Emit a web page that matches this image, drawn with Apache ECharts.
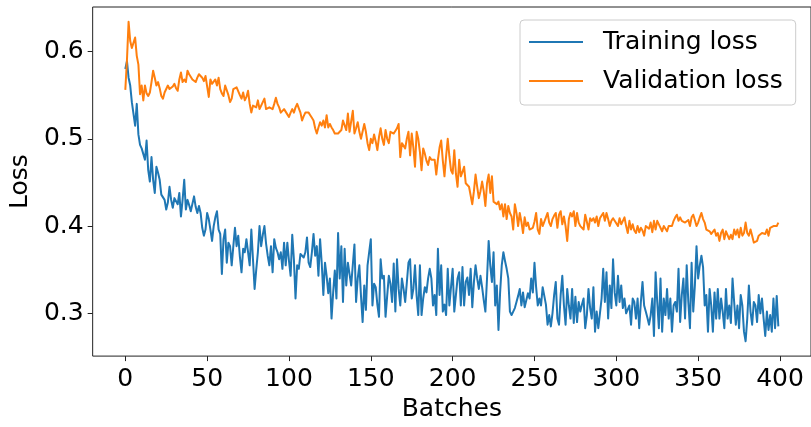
<!DOCTYPE html>
<html>
<head>
<meta charset="utf-8">
<script src="https://cdn.jsdelivr.net/npm/echarts@6/dist/echarts.min.js"></script>
<style>
html,body{margin:0;padding:0;background:#ffffff;}
#chart{width:811px;height:427px;}
</style>
</head>
<body>
<div id="chart"></div>
<script>
// ---- Data ----
const seriesNames = ['Training loss', 'Validation loss'];
const xAxisTitle = 'Batches';
const yAxisTitle = 'Loss';
const xTicks = [0, 50, 100, 150, 200, 250, 300, 350, 400];
const yTicks = [0.3, 0.4, 0.5, 0.6];

const trainingLoss = [
0.58,0.589,0.57,0.561,0.542,0.54,0.515,0.54,0.505,0.493,0.489,0.487,0.476,0.498,0.464,0.451,0.479,0.453,0.438,0.468,
0.461,0.453,0.436,0.438,0.43,0.419,0.427,0.445,0.43,0.421,0.432,0.43,0.425,0.438,0.411,0.43,0.453,0.419,0.43,0.424,
0.417,0.415,0.434,0.422,0.415,0.423,
0.415,0.398,0.389,0.396,0.415,0.408,0.396,0.383,0.40,0.41,0.417,0.396,0.391,0.345,0.385,0.396,0.358,0.381,0.377,0.355,
0.377,0.398,0.377,0.389,0.365,0.347,0.374,0.37,0.385,0.37,0.355,0.396,0.362,0.328,0.35,0.37,0.40,0.377,0.39,0.40,
0.38,0.366,0.355,0.377,0.347,0.385,0.375,0.37,0.362,0.37,0.351,0.381,0.355,0.381,
0.36,0.343,0.39,0.362,0.317,0.355,0.351,0.368,0.366,0.364,0.37,0.387,0.358,0.353,0.37,0.391,0.366,0.377,0.343,0.385,
0.358,0.321,0.358,0.343,0.323,0.34,0.294,0.324,0.349,0.317,0.392,0.34,0.377,0.313,0.374,0.332,0.358,0.345,0.332,0.33,
0.379,0.313,0.34,0.355,0.32,0.29,0.332,0.304,0.355,0.37,0.385,0.309,
0.334,0.33,0.31,0.296,0.362,0.34,0.343,0.296,0.32,0.343,0.334,0.313,0.357,0.302,0.362,0.328,0.309,0.34,0.328,0.313,
0.335,0.358,0.362,0.317,0.328,0.355,0.32,0.298,0.355,0.298,0.317,0.33,0.324,0.34,0.351,0.34,0.309,0.321,0.298,0.374,
0.321,0.355,0.302,0.31,0.298,0.351,0.309,0.33,0.351,0.302,
0.302,0.34,0.347,0.309,0.353,0.309,0.336,0.341,0.321,0.351,0.307,0.336,0.355,0.34,0.328,0.343,0.33,0.315,0.302,0.34,
0.383,0.355,0.336,0.37,0.309,0.332,0.281,0.324,0.355,0.37,0.36,0.351,0.34,0.302,0.298,0.302,0.306,0.313,0.32,0.328,
0.309,0.324,0.307,0.307,0.323,0.317,0.34,0.324,0.358,0.33,0.309,0.317,0.309,0.33,
0.328,0.31,0.287,0.298,0.285,0.30,0.321,0.336,0.294,0.287,0.321,0.343,0.309,0.287,0.328,0.309,0.294,0.328,0.289,0.319,
0.29,0.313,0.302,0.31,0.317,0.283,0.298,0.328,0.306,0.294,0.33,0.279,0.302,0.283,0.30,0.317,0.351,0.313,0.347,0.294,
0.332,0.306,0.362,0.324,0.309,0.343,0.313,0.332,0.306,0.317,0.30,0.298,
0.309,0.287,0.317,0.313,0.294,0.317,0.283,0.313,0.336,0.309,0.302,0.295,0.287,0.298,0.317,0.274,0.347,0.313,0.283,0.34,
0.279,0.317,0.298,0.328,0.294,0.317,0.279,0.309,0.313,0.302,0.351,0.29,0.321,0.34,0.294,0.355,0.313,0.283,0.358,0.302,
0.332,0.377,0.34,0.355,0.366,0.353,0.309,0.321,0.279,0.328,
0.309,0.279,0.324,0.294,0.328,0.294,0.317,0.302,0.283,0.328,0.294,0.309,0.289,0.34,0.313,0.287,0.309,0.283,0.321,0.309,
0.279,0.268,0.294,0.332,0.302,0.287,0.313,0.309,0.29,0.321,0.30,0.317,0.294,0.274,0.302,0.281,0.298,0.279,0.317,0.283,
0.32,0.285
];

const validationLoss = [
0.556,0.59,0.634,0.612,0.604,0.61,0.616,0.595,0.585,0.551,0.561,0.544,0.561,0.552,0.549,0.553,0.565,0.578,0.57,0.561,
0.565,0.558,0.549,0.546,0.553,0.551,0.561,0.557,0.559,0.56,0.563,0.558,0.555,0.568,0.576,0.565,0.568,0.565,0.578,0.574,
0.572,0.568,0.57,0.565,0.57,0.574,
0.573,0.57,0.566,0.572,0.56,0.548,0.568,0.563,0.565,0.568,0.561,0.57,0.557,0.552,0.549,0.561,0.561,0.55,0.542,0.546,
0.557,0.558,0.559,0.561,0.55,0.546,0.553,0.544,0.548,0.555,0.54,0.53,0.538,0.537,0.536,0.544,0.534,0.538,0.54,0.546,
0.534,0.535,0.536,0.535,0.534,0.54,0.547,0.54,0.536,0.53,0.532,0.534,
0.533,0.528,0.525,0.53,0.534,0.53,0.536,0.54,0.542,0.53,0.521,0.526,0.53,0.532,0.53,0.527,0.524,0.521,0.512,0.506,
0.513,0.519,0.515,0.521,0.513,0.527,0.513,0.517,0.513,0.51,0.506,0.508,0.506,0.504,0.51,0.521,0.519,0.51,0.529,0.508,
0.51,0.532,0.506,0.512,0.519,0.508,0.50,0.498,0.517,0.508,0.495,0.487,
0.50,0.495,0.505,0.497,0.487,0.502,0.512,0.50,0.493,0.51,0.50,0.495,0.508,0.51,0.506,0.508,0.512,0.517,0.479,0.495,
0.493,0.489,0.50,0.508,0.481,0.506,0.49,0.468,0.508,0.50,0.485,0.464,0.489,0.483,0.475,0.47,0.479,0.476,0.478,0.476,
0.459,0.476,0.49,0.498,0.475,0.457,0.48,0.50,0.48,0.464,
0.46,0.487,0.46,0.445,0.476,0.457,0.462,0.468,0.449,0.447,0.445,0.447,0.425,0.44,0.459,0.445,0.432,0.44,0.451,0.44,
0.423,0.449,0.459,0.438,0.457,0.428,0.43,0.425,0.428,0.419,0.425,0.411,0.425,0.408,0.423,0.415,0.411,0.396,0.425,0.415,
0.40,0.415,0.405,0.392,0.41,0.40,0.404,0.396,0.398,0.398,0.405,0.415,0.396,0.391,0.408,0.40,
0.40,0.41,0.415,0.404,0.40,0.408,0.412,0.415,0.398,0.413,0.417,0.402,0.411,0.40,0.383,0.408,0.415,0.411,0.417,0.40,
0.415,0.404,0.40,0.398,0.396,0.413,0.405,0.396,0.409,0.406,0.409,0.404,0.411,0.40,0.409,0.412,0.415,0.406,0.415,0.408,
0.40,0.406,0.409,0.406,
0.404,0.40,0.409,0.402,0.406,0.41,0.40,0.392,0.406,0.396,0.402,0.395,0.392,0.40,0.393,0.398,0.395,0.389,0.40,0.398,
0.397,0.404,0.393,0.406,0.396,0.406,0.402,0.40,0.394,0.40,0.398,0.394,0.40,0.402,0.40,0.406,0.41,0.413,0.406,0.41,
0.406,0.405,0.404,0.402,0.407,0.40,0.41,0.413,0.407,0.40,0.404,0.41,0.415,0.408,0.404,0.396,0.398,0.394,0.391,0.393,
0.396,0.389,0.392,0.383,0.392,0.396,0.385,0.394,0.392,0.385,0.39,0.385,0.396,0.39,0.396,0.387,0.398,0.389,0.392,0.404,
0.392,0.389,0.396,0.389,0.381,0.381,0.383,0.389,0.391,0.392,0.394,0.391,0.396,0.389,0.398,0.396,0.40,0.402,0.40,0.404
];

// ---- Chart ----
const FONT = 'DejaVu Sans';
const toPairs = arr => arr.map((v, i) => [i, v]);
const n = Math.max(trainingLoss.length, validationLoss.length) - 1;
const xPad = n * 0.05;

const chart = echarts.init(document.getElementById('chart'), null, {renderer: 'canvas'});
chart.setOption({
  animation: false,
  backgroundColor: '#ffffff',
  grid: {
    left: 89, top: 7, right: -2, bottom: 67,
    show: true, borderColor: '#222222', borderWidth: 1, backgroundColor: 'transparent'
  },
  legend: {
    show: true,
    data: seriesNames,
    icon: 'rect',
    orient: 'vertical',
    left: 520, top: 20,
    padding: [8, 13, 10, 9],
    itemGap: 11,
    itemWidth: 54,
    itemHeight: 2,
    selectedMode: false,
    borderColor: '#cccccc',
    borderWidth: 1,
    borderRadius: 4,
    backgroundColor: 'rgba(255,255,255,0.8)',
    textStyle: {fontFamily: FONT, fontSize: 25, color: '#000000', lineHeight: 28, padding: [0, 0, 0, 15]}
  },
  xAxis: {
    type: 'value',
    position: 'bottom',
    min: -xPad, max: n + xPad,
    name: xAxisTitle,
    nameLocation: 'middle',
    nameGap: 38,
    nameTextStyle: {fontFamily: FONT, fontSize: 25, color: '#000000'},
    axisLine: {show: false, onZero: false},
    axisTick: {show: true, inside: false, length: 5, customValues: xTicks, lineStyle: {color: '#222222', width: 1}},
    axisLabel: {show: true, customValues: xTicks, margin: 11, fontFamily: FONT, fontSize: 25, color: '#000000'},
    splitLine: {show: false}
  },
  yAxis: {
    type: 'value',
    position: 'left',
    min: 0.251, max: 0.651,
    name: yAxisTitle,
    nameLocation: 'middle',
    nameRotate: 90,
    nameGap: 51,
    nameTextStyle: {fontFamily: FONT, fontSize: 25, color: '#000000'},
    axisLine: {show: false, onZero: false},
    axisTick: {show: true, inside: false, length: 5, customValues: yTicks, lineStyle: {color: '#222222', width: 1}},
    axisLabel: {show: true, customValues: yTicks, margin: 9, fontFamily: FONT, fontSize: 25, color: '#000000',
      formatter: v => Number(v).toFixed(1)},
    splitLine: {show: false}
  },
  series: [
    {
      name: seriesNames[0], type: 'line', data: toPairs(trainingLoss),
      showSymbol: false, symbol: 'none', smooth: false,
      lineStyle: {color: '#1f77b4', width: 2, join: 'round'},
      itemStyle: {color: '#1f77b4'}
    },
    {
      name: seriesNames[1], type: 'line', data: toPairs(validationLoss),
      showSymbol: false, symbol: 'none', smooth: false,
      lineStyle: {color: '#ff7f0e', width: 2, join: 'round'},
      itemStyle: {color: '#ff7f0e'}
    }
  ]
});
</script>
</body>
</html>
